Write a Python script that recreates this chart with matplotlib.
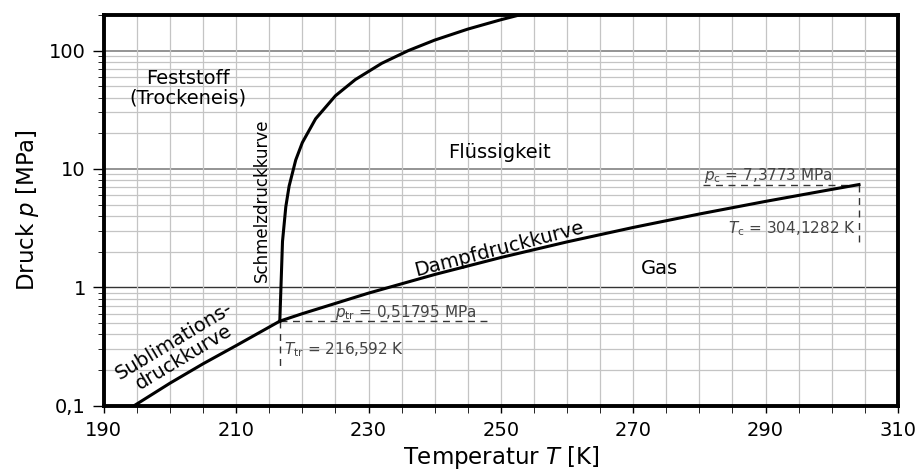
import numpy as np
import matplotlib
matplotlib.use('Agg')
import matplotlib.pyplot as plt
from matplotlib.ticker import FixedLocator, LogLocator, NullFormatter

plt.rcParams["font.family"] = "DejaVu Sans"
plt.rcParams["mathtext.fontset"] = "dejavusans"

# Sublimationsdruckkurve (T in K, p in MPa)
T_sub = [194.7, 200.0, 205.0, 210.0, 216.592]
p_sub = [0.101, 0.155, 0.226, 0.322, 0.51795]

# Schmelzdruckkurve
T_melt = [216.592, 217.0, 217.5, 218.0, 219.0, 220.0, 222.0, 225.0, 228.0,
          232.0, 236.0, 240.0, 245.0, 250.0, 253.0]
p_melt = [0.51795, 2.44, 4.79, 7.16, 11.9, 16.7, 26.5, 41.5, 56.8,
          78.0, 99.8, 122.5, 151.7, 182.0, 201.0]

# Dampfdruckkurve
T_vap = [216.592, 220, 230, 240, 250, 260, 270, 280, 290, 300, 304.1282]
p_vap = [0.51795, 0.599, 0.893, 1.283, 1.785, 2.419, 3.203, 4.161, 5.318, 6.713, 7.3773]

T_tr, p_tr = 216.592, 0.51795
T_c, p_c = 304.1282, 7.3773

xticks = [190, 210, 230, 250, 270, 290, 310]
yticks = [0.1, 1, 10, 100]
yticklabels = ['0,1', '1', '10', '100']

fig = plt.figure(figsize=(9.19, 4.76), dpi=100)
ax = fig.add_axes([0.113, 0.1477, 0.864, 0.821])
ax.set_yscale('log')
ax.set_xlim(190, 310)
ax.set_ylim(0.1, 200)

# grid
ax.xaxis.set_major_locator(FixedLocator(xticks))
ax.xaxis.set_minor_locator(FixedLocator(np.arange(190, 311, 5)))
ax.set_xticklabels([str(t) for t in xticks])
ax.yaxis.set_major_locator(FixedLocator(yticks))
ax.set_yticklabels(yticklabels)
ax.yaxis.set_minor_locator(LogLocator(base=10, subs=np.arange(2, 10)))
ax.yaxis.set_minor_formatter(NullFormatter())
ax.grid(True, which='minor', axis='both', color='#c4c4c4', lw=0.9)
ax.grid(True, which='major', axis='x', color='#c4c4c4', lw=0.9)
ax.axhline(1, color='#333333', lw=1.0, zorder=1)
ax.axhline(10, color='#777777', lw=1.1, zorder=1)
ax.axhline(100, color='#777777', lw=1.1, zorder=1)

ax.tick_params(axis='both', which='major', labelsize=14, direction='out', width=1)
ax.tick_params(axis='y', which='major', length=8, pad=5)
ax.tick_params(axis='y', which='minor', length=4)
ax.tick_params(axis='x', which='both', length=5)
ax.tick_params(axis='x', which='major', pad=6)
for s in ax.spines.values():
    s.set_linewidth(2.8)

# curves
ax.plot(T_sub, p_sub, color='black', lw=2.2, zorder=3)
ax.plot(T_melt, p_melt, color='black', lw=2.2, zorder=3)
ax.plot(T_vap, p_vap, color='black', lw=2.2, zorder=3)

# dashed helper lines
dcol = '#333333'
ax.plot([T_tr, 248], [p_tr, p_tr], ls=(0, (5, 4)), color=dcol, lw=1)
ax.plot([T_tr, T_tr], [p_tr, 0.21], ls=(0, (5, 4)), color=dcol, lw=1)
ax.plot([280.5, T_c], [p_c, p_c], ls=(0, (5, 4)), color=dcol, lw=1)
ax.plot([T_c, T_c], [p_c, 2.3], ls=(0, (5, 4)), color=dcol, lw=1)

acol = '#444444'
afs = 11
ax.text(225.0, 0.505, r'$p_{\mathrm{tr}}$ = 0,51795 MPa', fontsize=afs, color=acol, va='bottom')
ax.text(217.2, 0.295, r'$T_{\mathrm{tr}}$ = 216,592 K', fontsize=afs, color=acol, va='center')
ax.text(280.7, 7.25, r'$p_{\mathrm{c}}$ = 7,3773 MPa', fontsize=afs, color=acol, va='bottom')
ax.text(303.6, 3.15, r'$T_{\mathrm{c}}$ = 304,1282 K', fontsize=afs, color=acol, va='center', ha='right')

# region labels
ax.text(202.7, 48, 'Feststoff\n(Trockeneis)', fontsize=14, ha='center', va='center', linespacing=1.05)
ax.text(249.8, 13.8, 'Flüssigkeit', fontsize=14, ha='center', va='center')
ax.text(274.0, 1.43, 'Gas', fontsize=14, ha='center', va='center')
ax.text(213.9, 5.4, 'Schmelzdruckkurve', fontsize=12, ha='center', va='center', rotation=90)
ax.text(249.7, 2.12, 'Dampfdruckkurve', fontsize=14, ha='center', va='center', rotation=14.5)
ax.text(201.4, 0.30, 'Sublimations-\ndruckkurve', fontsize=14, ha='center', va='center',
        rotation=31, linespacing=1.0)

ax.set_xlabel(r'Temperatur $T$ [K]', fontsize=16.5, labelpad=3)
ax.set_ylabel(r'Druck $p$ [MPa]', fontsize=16.5, labelpad=6)

plt.savefig('out.png', dpi=100)
